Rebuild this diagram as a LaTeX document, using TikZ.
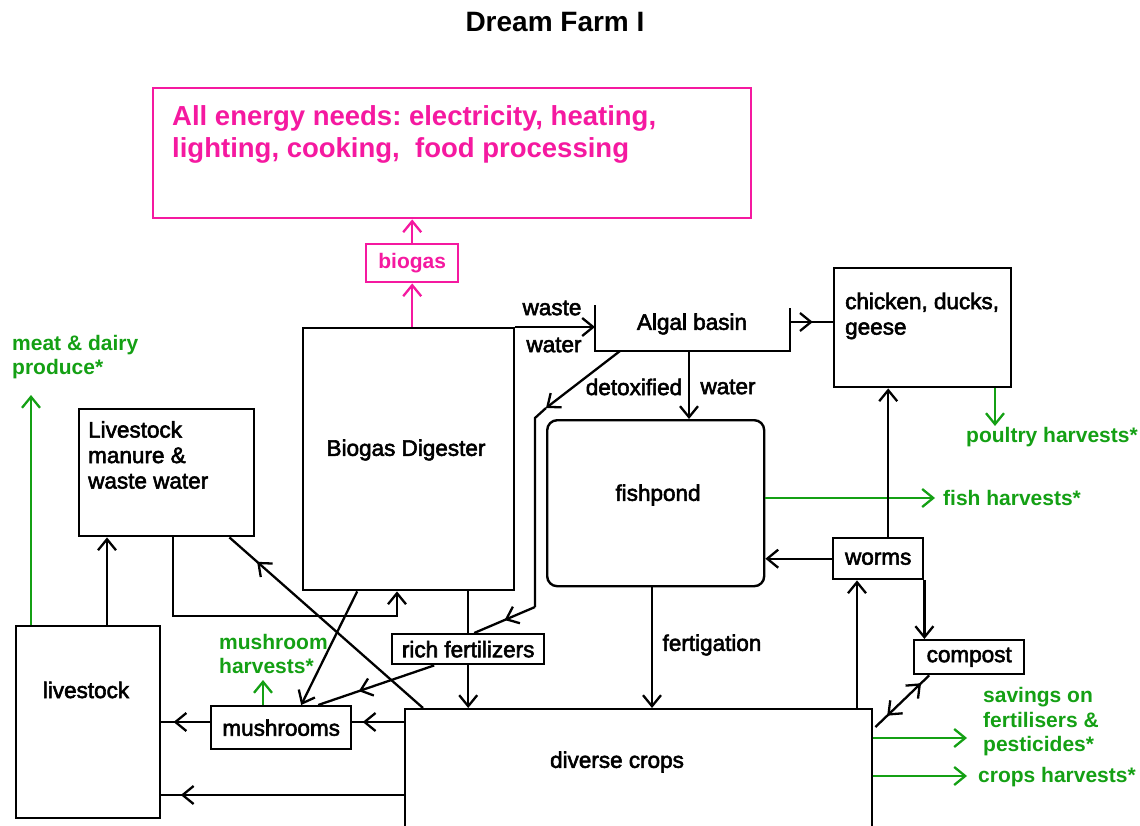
\documentclass[tikz,border=0pt]{standalone}
\usepackage{fontspec}
\setmainfont{Liberation Sans}
\newfontfamily\medf{Liberation Sans}[FakeBold=2.5]
\usetikzlibrary{arrows.meta,decorations.markings}
\definecolor{pnk}{RGB}{245,25,160}
\definecolor{grn}{RGB}{20,160,20}
\tikzset{
  bx/.style={draw, line width=2.4pt, inner sep=0pt, anchor=north west},
  ln/.style={line width=2.3pt},
  ar/.style={ln, -{Straight Barb[length=11pt,width=18pt]}},
  midarr/.style={postaction={decorate,decoration={markings,mark=at position #1 with {\arrow{Straight Barb[length=11pt,width=18pt]}}}}},
  midarrr/.style={postaction={decorate,decoration={markings,mark=at position #1 with {\arrowreversed{Straight Barb[length=11pt,width=18pt]}}}}},
  txt/.style={font=\medf\fontsize{22.5}{25.5}\selectfont, inner sep=0pt, align=left},
  btxt/.style={font=\medf\fontsize{22.5}{25}\selectfont},
  gtxt/.style={font=\bfseries\fontsize{21}{24.5}\selectfont, text=grn, inner sep=0pt, align=left},
  ptxt/.style={font=\bfseries\fontsize{27.5}{32}\selectfont, text=pnk, inner sep=0pt, align=left},
}
\begin{document}
\frenchspacing
\begin{tikzpicture}[x=1pt,y=-1pt]
\clip (0,0) rectangle (1140,826);
\fill[white] (0,0) rectangle (1140,826);

% title
\node[font=\bfseries\fontsize{28}{32}\selectfont, inner sep=0pt] (title) at (555,22) {Dream Farm I};

% boxes
\node[bx, draw=pnk, minimum width=598, minimum height=130] (energy) at (152,87) {};
\node[ptxt, anchor=west] (energytxt) at (172,134) {All energy needs: electricity, heating,\\lighting, cooking,\ \ food processing};
\node[bx, draw=pnk, minimum width=92, minimum height=38, font=\bfseries\fontsize{21}{24}\selectfont, text=pnk] (biogas) at (365,243) {biogas};
\node[bx, minimum width=211, minimum height=262] (dig) at (302,327) {};
\node[txt] (digtxt) at (406,450) {Biogas Digester};
\node[bx, minimum width=177, minimum height=119] (chick) at (833,267) {};
\node[txt, anchor=west] (chicktxt) at (845,316) {chicken, ducks,\\geese};
\node[bx, rounded corners=10pt, minimum width=217, minimum height=166] (fish) at (546,419) {};
\node[txt] (fishtxt) at (658,495) {fishpond};
\node[bx, btxt, minimum width=90, minimum height=41] (worms) at (832,537) {worms};
\node[bx, btxt, minimum width=110, minimum height=34] (compost) at (913,639) {compost};
\node[bx, btxt, minimum width=152, minimum height=30] (rich) at (391,633) {rich fertilizers};
\node[bx, btxt, minimum width=140, minimum height=43] (mush) at (210,705) {mushrooms};
\node[bx, minimum width=467, minimum height=200] (crops) at (404,708) {};
\node[txt] (cropstxt) at (617,762) {diverse crops};
\node[bx, minimum width=144, minimum height=192] (live) at (15,625) {};
\node[txt] (livetxt) at (86,690) {livestock};
\node[bx, minimum width=175, minimum height=127] (manure) at (78,408) {};
\node[txt, anchor=west] (manuretxt) at (88,455) {Livestock\\manure \&\\waste water};

% algal basin
\node[txt] (algal) at (692,324) {Algal basin};
\draw[ln] (595,305) |- (790,351) -- (790,308);
\coordinate (basinL) at (595,327);
\coordinate (basinR) at (790,322);
\coordinate (basinB) at (689,351);
\coordinate (basinD) at (620,351);

% labels
\node[txt] (lwaste) at (552,308) {waste};
\node[txt] (lwater) at (554,345) {water};
\node[txt] (ldetox) at (634,387) {detoxified};
\node[txt] (lwater2) at (728,387) {water};
\node[txt] (lfert) at (712,645) {fertigation};

\node[gtxt, anchor=west] (meat) at (12,357) {meat \& dairy\\produce*};
\node[gtxt, anchor=west] (poultry) at (966,437) {poultry harvests*};
\node[gtxt, anchor=west] (fishh) at (943,498) {fish harvests*};
\node[gtxt, anchor=west] (mushh) at (219,654) {mushroom\\harvests*};
\node[gtxt, anchor=west] (savings) at (983,722) {savings on\\fertilisers \&\\pesticides*};
\node[gtxt, anchor=west] (cropsh) at (978,777) {crops harvests*};

% pink connectors
\draw[ar, pnk] (biogas.north) -- (biogas.north |- energy.south);
\draw[ar, pnk] (biogas.south |- dig.north) -- (biogas.south);

% digester to algal basin
\draw[ar] (dig.north east) -- (basinL);
\draw[ln, midarr=0.53] (basinR) -- (basinR -| chick.west);
\draw[ar] (basinB) -- (basinB |- fish.north);
\coordinate (d1) at (546,408);
\coordinate (d2) at (535,418);
\coordinate (d3) at (535,607);
\draw[ar] (basinD) -- (d1);
\draw[ln] (d1) -- (d2) -- (d3);
\draw[ln, midarr=0.5] (d3) -- ([xshift=6pt]rich.north);

% chicken / fish / worms
\coordinate (pt) at (995,426);
\draw[ar, grn] (pt |- chick.south) -- (pt);
\draw[ar, grn] (fish.east |- fishh.west) -- ([xshift=-8pt]fishh.west);
\draw[ar] (worms.west) -- (worms.west -| fish.east);
\draw[ar] ([xshift=10pt]worms.north) -- ([xshift=10pt]worms.north |- chick.south);
\draw[ar] (worms.south east) -- (worms.south east |- compost.north);
\draw[ar] (857,708 |- crops.north) -- (857,708 |- worms.south);
\draw[ln, midarr=0.85, midarrr=0.22] ([xshift=2pt,yshift=-19pt]crops.north east) -- ([xshift=-40pt]compost.south);

% crops outputs
\draw[ar, grn] ([yshift=-30pt]crops.north east) -- (967,738);
\draw[ar, grn] ([yshift=-68pt]crops.north east) -- (967,776);
\draw[ar] (652,0 |- fish.south) -- (652,0 |- crops.north);

% rich fertilizers
\draw[ln] (dig.south -| rich.north) -- (rich.north);
\draw[ar] (rich.south) -- (rich.south |- crops.north);
\draw[ln, midarr=0.65] ([xshift=-34pt]rich.south) -- ([xshift=37pt]mush.north);
\draw[ar] ([xshift=-51.5pt]dig.south) -- ([xshift=20pt]mush.north);

% mushrooms
\coordinate (mh) at (263,680);
\draw[ar, grn] (mh |- mush.north) -- (mh);
\draw[ln, midarr=0.8] (crops.west |- 0,722) -- (mush.east |- 0,722);
\draw[ln, midarr=0.75] (mush.west |- 0,722) -- (live.east |- 0,722);
\draw[ln, midarr=0.92] (crops.west |- 0,795) -- (live.east |- 0,795);

% livestock
\draw[ar] (107,0 |- live.north) -- (107,0 |- manure.south);
\coordinate (mt) at (31,395);
\draw[ar, grn] (mt |- live.north) -- (mt);
\draw[ar] (173,0 |- manure.south) -- (173,616) -| (397,0 |- dig.south);
\draw[ln, midarr=0.857] ([xshift=19pt]crops.north west) -- ([xshift=-26pt]manure.south east);
\end{tikzpicture}
\end{document}
